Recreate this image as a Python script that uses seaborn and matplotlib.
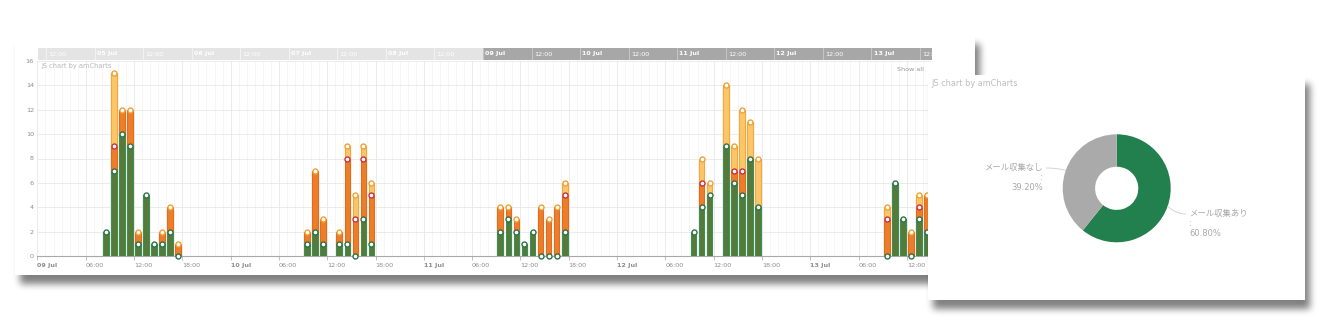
import numpy as np
import pandas as pd
import matplotlib
matplotlib.use("Agg")
import matplotlib.pyplot as plt
import matplotlib.dates as mdates
from matplotlib.patches import Rectangle
import seaborn as sns

# ---------------------------------------------------------------- data
slot_times = pd.to_datetime([
    "2015-07-09 08:00", "2015-07-09 09:00", "2015-07-09 10:00", "2015-07-09 11:00",
    "2015-07-09 12:00", "2015-07-09 13:00", "2015-07-09 14:00", "2015-07-09 15:00",
    "2015-07-09 16:00", "2015-07-09 17:00",
    "2015-07-10 09:00", "2015-07-10 10:00", "2015-07-10 11:00", "2015-07-10 13:00",
    "2015-07-10 14:00", "2015-07-10 15:00", "2015-07-10 16:00", "2015-07-10 17:00",
    "2015-07-11 09:00", "2015-07-11 10:00", "2015-07-11 11:00", "2015-07-11 12:00",
    "2015-07-11 13:00", "2015-07-11 14:00", "2015-07-11 15:00", "2015-07-11 16:00",
    "2015-07-11 17:00",
    "2015-07-12 09:00", "2015-07-12 10:00", "2015-07-12 11:00", "2015-07-12 13:00",
    "2015-07-12 14:00", "2015-07-12 15:00", "2015-07-12 16:00", "2015-07-12 17:00",
    "2015-07-13 09:00", "2015-07-13 10:00", "2015-07-13 11:00", "2015-07-13 12:00",
    "2015-07-13 13:00", "2015-07-13 14:00",
])
count_green = [2, 7, 10, 9, 1, 5, 1, 1, 2, 0,
               1, 2, 1, 1, 1, 0, 3, 1,
               2, 3, 2, 1, 2, 0, 0, 0, 2,
               2, 4, 5, 9, 6, 5, 8, 4,
               0, 6, 3, 0, 3, 2]
count_orange = [0, 2, 2, 3, 1, 0, 0, 1, 2, 1,
                1, 5, 2, 1, 7, 3, 5, 4,
                2, 1, 1, 0, 0, 4, 3, 4, 3,
                0, 2, 0, 0, 1, 2, 0, 0,
                3, 0, 0, 2, 1, 3]
count_light = [0, 6, 0, 0, 0, 0, 0, 0, 0, 0,
               0, 0, 0, 0, 1, 2, 1, 1,
               0, 0, 0, 0, 0, 0, 0, 0, 1,
               0, 2, 1, 5, 2, 5, 3, 4,
               1, 0, 0, 0, 1, 0]
y_ticks = [0, 2, 4, 6, 8, 10, 12, 14, 16]

view_start = pd.Timestamp("2015-07-09 00:00")
view_end = view_start + pd.Timedelta(hours=111)
scroll_start = view_start - pd.Timedelta(hours=110)

pie_labels = ["メール収集あり", "メール収集なし"]
pie_values = [60.8, 39.2]

# ---------------------------------------------------------------- style
sns.set_theme(style="white")
plt.rcParams["font.family"] = ["DejaVu Sans", "Noto Sans CJK JP"]

W, H = 1335, 330
GREEN, GREEN_EDGE, GREEN_RING = "#567a3a", "#3d8f55", "#2f7248"
ORANGE, ORANGE_EDGE, RED_RING = "#ec7d2a", "#e26c1a", "#cf2f3f"
LIGHT, LIGHT_EDGE, LIGHT_RING = "#fbc66a", "#f3a83c", "#f1a232"
PIE_COLORS = ["#22804f", "#aaaaaa"]
TEXT_GREY = "#8c8c8c"

LEFT_CARD = (15, 35, 975, 275)
PIE_CARD = (928, 75, 1305, 300)
PLOT_BOX = (37.4, 61, 931, 256)
SCROLL_BOX = (38, 48, 932, 60)
PIE_CENTER = (1116.7, 188.3)
PIE_R = 54.0


def frac(x0, y0, x1, y1):
    return [x0 / W, 1 - y1 / H, (x1 - x0) / W, (y1 - y0) / H]


def box1d(a, r, axis):
    a = np.moveaxis(a, axis, -1)
    p = np.pad(a, [(0, 0), (r + 1, r)])
    c = np.cumsum(p, axis=-1)
    out = (c[..., 2 * r + 1:] - c[..., :-(2 * r + 1)]) / (2 * r + 1)
    return np.moveaxis(out, -1, axis)


def shadow_rgba(box, dx, dy, r, alpha):
    m = np.zeros((H, W))
    x0, y0, x1, y1 = box
    m[int(y0 + dy):int(y1 + dy), int(x0 + dx):int(x1 + dx)] = 1.0
    for _ in range(3):
        m = box1d(m, r, 0)
        m = box1d(m, r, 1)
    rgba = np.zeros((H, W, 4))
    rgba[..., 3] = np.clip(m, 0, 1) * alpha
    return rgba


def add_shadow(fig, box, z):
    sax = fig.add_axes([0, 0, 1, 1], zorder=z)
    sax.imshow(shadow_rgba(box, 5, 9, 3, 0.5), extent=(0, W, H, 0),
               aspect="auto", interpolation="bilinear")
    sax.set_xlim(0, W)
    sax.set_ylim(H, 0)
    sax.axis("off")


fig = plt.figure(figsize=(W / 100, H / 100), dpi=100)
fig.patch.set_facecolor("white")

# ---------------------------------------------------------------- column chart card
add_shadow(fig, LEFT_CARD, -3)
card = fig.add_axes(frac(*LEFT_CARD), zorder=-1)
card.set_facecolor("white")
card.set_xticks([])
card.set_yticks([])
for s in card.spines.values():
    s.set_visible(False)

ax = fig.add_axes(frac(*PLOT_BOX), zorder=1)
ax.patch.set_alpha(0)
x0n, x1n = mdates.date2num(view_start), mdates.date2num(view_end)
ax.set_xlim(x0n, x1n)
ax.set_ylim(0, 16)

g = np.array(count_green, dtype=float)
o = np.array(count_orange, dtype=float)
l = np.array(count_light, dtype=float)
xc = mdates.date2num(slot_times + pd.Timedelta(minutes=30))
bw = 0.7 / 24

m = g > 0
ax.bar(xc[m], g[m], width=bw, color=GREEN, edgecolor=GREEN_EDGE, linewidth=0.8, zorder=3)
m = o > 0
ax.bar(xc[m], o[m], bottom=g[m], width=bw, color=ORANGE, edgecolor=ORANGE_EDGE,
       linewidth=0.8, zorder=2)
m = l > 0
ax.bar(xc[m], l[m], bottom=(g + o)[m], width=bw, color=LIGHT, edgecolor=LIGHT_EDGE,
       linewidth=0.8, zorder=2)

# bullets on the stacked tops
top = g + o + l
m = (o + l) > 0
ax.scatter(xc[m], top[m], s=13, facecolor="white", edgecolor=LIGHT_RING, linewidths=1.0, zorder=5)
m = (o > 0) & (l > 0)
ax.scatter(xc[m], (g + o)[m], s=13, facecolor="white", edgecolor=RED_RING, linewidths=1.0, zorder=6)
ax.scatter(xc, g, s=13, facecolor="white", edgecolor=GREEN_RING, linewidths=1.0, zorder=7,
           clip_on=False)

# grid and axes
hour_marks = pd.date_range(view_start, view_end, freq="1h")
six_marks = pd.date_range(view_start, view_end, freq="6h")
ax.set_xticks(mdates.date2num(hour_marks), minor=True)
six_labels = [t.strftime("%d %b") if t.hour == 0 else t.strftime("%H:%M") for t in six_marks]
ax.set_xticks(mdates.date2num(six_marks), six_labels, ha="left")
for lab, t in zip(ax.get_xticklabels(), six_marks):
    if t.hour == 0:
        lab.set_fontweight("bold")
ax.grid(which="minor", axis="x", color="#f5f5f5", linewidth=0.6)
ax.grid(which="major", axis="x", color="#e8e8e8", linewidth=0.6)
ax.set_yticks(y_ticks)
ax.grid(which="major", axis="y", color="#e8e8e8", linewidth=0.6)
ax.set_axisbelow(True)
ax.tick_params(axis="x", which="major", length=3, width=0.6, color="#b5b5b5", pad=2,
               labelsize=4.6, labelcolor=TEXT_GREY, bottom=True)
ax.tick_params(axis="x", which="minor", length=0)
ax.tick_params(axis="y", length=0, pad=2.5, labelsize=4.6, labelcolor=TEXT_GREY)
for side in ("top", "right", "left"):
    ax.spines[side].set_visible(False)
ax.spines["bottom"].set_color("#a8a8a8")
ax.spines["bottom"].set_linewidth(0.8)
ax.text(0.005, 0.974, "JS chart by amCharts", transform=ax.transAxes, fontsize=4.8,
        color="#b8b8b8", ha="left", va="center")
ax.text(0.992, 0.954, "Show all", transform=ax.transAxes, fontsize=4.6,
        color="#999999", ha="right", va="center")

# scrollbar strip
sc = fig.add_axes(frac(*SCROLL_BOX), zorder=1)
s0n = mdates.date2num(scroll_start)
sc.set_xlim(s0n, x1n)
sc.set_ylim(0, 1)
sc.axvspan(s0n, x0n, color="#e4e4e4", lw=0)
sc.axvspan(x0n, x1n, color="#a7a7a7", lw=0)
for t in pd.date_range(scroll_start + pd.Timedelta(hours=2), view_end, freq="12h"):
    tn = mdates.date2num(t)
    sc.axvline(tn, color="#f3f3f3" if tn < x0n else "#c6c6c6", lw=0.7)
    lab = t.strftime("%d %b") if t.hour == 0 else t.strftime("%H:%M")
    sc.annotate(lab, (tn, 0.5), xytext=(1.6, 0), textcoords="offset points",
                ha="left", va="center", fontsize=4.6, color="white",
                fontweight="bold" if t.hour == 0 else "normal", clip_on=True)
sc.axis("off")

# ---------------------------------------------------------------- donut card
add_shadow(fig, PIE_CARD, 3)
pax = fig.add_axes(frac(*PIE_CARD), zorder=4)
pax.add_patch(Rectangle((0, 0), 1, 1, transform=pax.transAxes, facecolor="white",
                        edgecolor="none", zorder=-10))
wedges, _ = pax.pie(pie_values, colors=PIE_COLORS, startangle=90, counterclock=False,
                    radius=1.0, wedgeprops=dict(width=0.6, linewidth=0))
pax.set_aspect("auto")
cx, cy = PIE_CENTER
pax.set_xlim((PIE_CARD[0] - cx) / PIE_R, (PIE_CARD[2] - cx) / PIE_R)
pax.set_ylim(-(PIE_CARD[3] - cy) / PIE_R, (cy - PIE_CARD[1]) / PIE_R)
pax.axis("off")

label_anchor = {1: (1.34, -0.476), -1: (-1.365, 0.376)}
for w, name, val in zip(wedges, pie_labels, pie_values):
    mid = np.deg2rad((w.theta1 + w.theta2) / 2)
    ex, ey = np.cos(mid), np.sin(mid)
    side = 1 if ex >= 0 else -1
    axx, axy = label_anchor[side]
    lx = axx - side * 0.06
    t = np.linspace(0, 1, 30)
    ctrl = ((ex + lx) / 2, axy)
    bx = (1 - t) ** 2 * ex + 2 * (1 - t) * t * ctrl[0] + t ** 2 * lx
    by = (1 - t) ** 2 * ey + 2 * (1 - t) * t * ctrl[1] + t ** 2 * axy
    pax.plot(bx, by, color="#cfcfcf", lw=0.6, zorder=1)
    pax.text(axx, axy + 0.09, f"{name}\n:\n{val:.2f}%", ha="left" if side > 0 else "right",
             multialignment="left" if side > 0 else "right", va="top", fontsize=6,
             color="#a8a8a8", linespacing=1.15,
             family=["DejaVu Sans", "Noto Sans CJK JP"])

pax.text(3 / (PIE_CARD[2] - PIE_CARD[0]), 1 - 9 / (PIE_CARD[3] - PIE_CARD[1]),
         "JS chart by amCharts", transform=pax.transAxes, fontsize=5.9,
         color="#bdbdbd", ha="left", va="center")

fig.savefig("out.png", dpi=100, facecolor="white")
